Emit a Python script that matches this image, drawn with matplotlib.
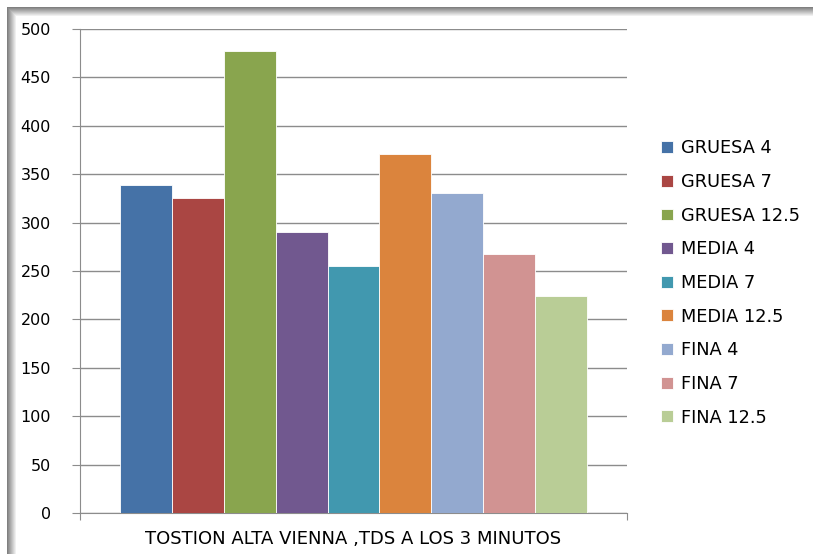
import matplotlib.pyplot as plt
from matplotlib.patches import Rectangle

series = ["GRUESA 4", "GRUESA 7", "GRUESA 12.5", "MEDIA 4", "MEDIA 7",
          "MEDIA 12.5", "FINA 4", "FINA 7", "FINA 12.5"]
tds = [339, 325, 477, 290, 255, 371, 331, 268, 224]
category = "TOSTION ALTA VIENNA ,TDS A LOS 3 MINUTOS"
colors = ["#4572A7", "#AA4643", "#89A54E", "#71588F", "#4198AF",
          "#DB843D", "#93A9CF", "#D19392", "#B9CD96"]

plt.rcParams['font.family'] = ['DejaVu Sans']

fig = plt.figure(figsize=(8.13, 5.54), dpi=100)

# shadowed frame along top and left edge (dark outside -> light inside)
W, H = 813, 554
for i in range(9):
    g = 0.50 + 0.055 * i
    fig.add_artist(Rectangle(((7 + i) / W, 0), 1 / W, 1 - (7 + i) / H,
                             transform=fig.transFigure, color=str(g), lw=0))
    fig.add_artist(Rectangle(((7 + i) / W, 1 - (8 + i) / H), 1, 1 / H,
                             transform=fig.transFigure, color=str(g), lw=0))

ax = fig.add_axes([80 / W, 1 - 513 / H, 547 / W, 484 / H])

x = list(range(len(series)))
bars = ax.bar(x, tds, width=1.0, color=colors, edgecolor="white", linewidth=0.6,
              zorder=3)

ax.set_ylim(0, 500)
ax.set_yticks(range(0, 501, 50))
ax.set_xlim(-0.5 - 0.77, len(series) - 0.5 + 0.77)
ax.set_xticks([-0.5 - 0.77, len(series) - 0.5 + 0.77])
ax.set_xticklabels(["", ""])
ax.tick_params(axis='x', length=5, color="#8c8c8c")
ax.tick_params(axis='y', length=6, color="#8c8c8c", labelsize=11.5, pad=15)
ax.yaxis.grid(True, color="#8c8c8c", linewidth=1, zorder=0)
for s in ["top", "right"]:
    ax.spines[s].set_visible(False)
for s in ["left", "bottom"]:
    ax.spines[s].set_color("#8c8c8c")
ax.set_xlabel(category, fontsize=13, labelpad=4)

leg = fig.legend(bars, series, loc="center left", bbox_to_anchor=(645 / W, 1 - 283 / H),
                 frameon=False, fontsize=12.8, handlelength=0.65, handleheight=0.65,
                 handletextpad=0.45, labelspacing=0.88)

fig.savefig("out.png", dpi=100)
